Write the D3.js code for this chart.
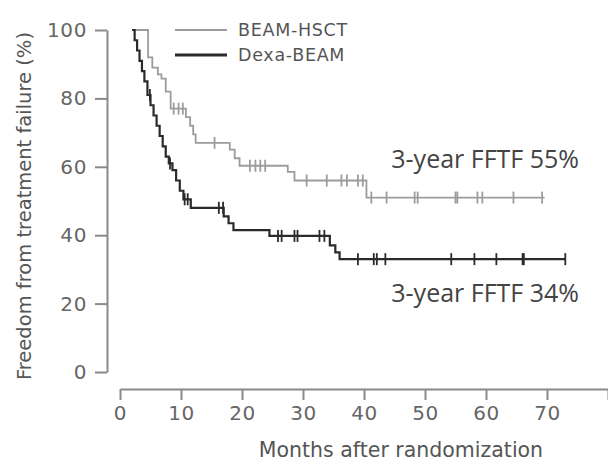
<!DOCTYPE html>
<html>
<head>
<meta charset="utf-8">
<script src="https://cdn.jsdelivr.net/npm/d3@7"></script>
<style>
  body { margin: 0; background: #fff; }
  svg { display: block; }
  .tick text { font-family: "DejaVu Sans", sans-serif; fill: #666; }
</style>
</head>
<body>
<div id="km"></div>
<script>
// BEAM-HSCT (grey) step times / survival (%)
var beamTimes = [2, 4.6, 5.3, 6.2, 6.8, 7.5, 8.3, 10.8, 11.5, 12.0, 12.4, 18, 18.8, 19.6, 27.5, 28.6, 40.4];
var beamSurv  = [100, 92, 89, 87, 85.8, 82, 77, 74.5, 72, 69.5, 67, 65, 62.5, 60.3, 58.5, 56, 51];
var beamCensor = [8.8, 9.6, 10.3, 15.5, 21.3, 22.2, 23, 23.8, 30.6, 33.9, 36.3, 37.2, 39, 39.8,
                  41.2, 43.7, 48.3, 48.8, 55, 55.3, 58.6, 59.4, 64.5, 69.2];
var beamEnd = 69.6;

// Dexa-BEAM (black)
var dexaTimes = [2, 2.4, 2.8, 3.2, 3.6, 4, 4.5, 5, 5.5, 6, 6.5, 7, 7.5, 8, 8.6, 9.2, 9.8, 10.4,
                 11.6, 17, 17.8, 18.6, 24.5, 34.4, 35.3, 36];
var dexaSurv  = [100, 97, 94, 91, 88, 85, 81, 78, 75, 72, 69, 66, 63, 61, 59, 56, 53, 50.5,
                 48, 45.5, 43.5, 41.5, 39.8, 37, 35, 33];
var dexaCensor = [4.9, 8.2, 10.6, 11.1, 16.2, 16.9, 25.9, 26.5, 28.6, 29.1, 32.7, 33.5,
                  39, 41.6, 42.1, 43.5, 54.3, 58.1, 61.7, 66, 66.2, 73];
var dexaEnd = 73;

var xTicks = [0, 10, 20, 30, 40, 50, 60, 70, 80];
var yTicks = [0, 20, 40, 60, 80, 100];
var seriesNames = ['BEAM-HSCT', 'Dexa-BEAM'];
var seriesColors = ['#9c9c9c', '#2a2a2a'];
var notes = ['3-year FFTF 55%', '3-year FFTF 34%'];

var width = 608, height = 463;

var svg = d3.select('#km').append('svg')
    .attr('width', width)
    .attr('height', height);

var x = d3.scaleLinear().domain([0, 80]).range([120, 608]);
var y = d3.scaleLinear().domain([0, 100]).range([372, 30]);

// axes
var yAxis = svg.append('g')
    .attr('transform', 'translate(107,0)')
    .call(d3.axisLeft(y).tickValues(yTicks).tickSize(12).tickSizeOuter(0).tickPadding(8));
var xAxis = svg.append('g')
    .attr('transform', 'translate(0,389)')
    .call(d3.axisBottom(x).tickValues(xTicks).tickSize(11).tickSizeOuter(0).tickPadding(6)
        .tickFormat(function(d) { return d === 80 ? '' : d; }));

[yAxis, xAxis].forEach(function(a) {
    a.selectAll('path, line').attr('stroke', '#8a8a8a').attr('stroke-width', 2);
    a.selectAll('text').attr('font-size', 20).attr('letter-spacing', '0.6px');
});

svg.append('text')
    .attr('transform', 'translate(31,206) rotate(-90)')
    .attr('text-anchor', 'middle')
    .attr('font-family', 'DejaVu Sans, sans-serif')
    .attr('font-size', 19.5)
    .attr('fill', '#555')
    .text('Freedom from treatment failure (%)');

svg.append('text')
    .attr('x', 401).attr('y', 457)
    .attr('text-anchor', 'middle')
    .attr('font-family', 'DejaVu Sans, sans-serif')
    .attr('font-size', 20.5)
    .attr('fill', '#555')
    .text('Months after randomization');

// step curves
function survAt(times, surv, t) {
    var i = d3.bisectRight(times, t) - 1;
    return surv[Math.max(i, 0)];
}

var series = [
    {times: beamTimes, surv: beamSurv, censor: beamCensor, end: beamEnd},
    {times: dexaTimes, surv: dexaSurv, censor: dexaCensor, end: dexaEnd}
];

var line = d3.line()
    .x(function(d) { return x(d[0]); })
    .y(function(d) { return y(d[1]); })
    .curve(d3.curveStepAfter);

series.forEach(function(s, k) {
    var pts = s.times.map(function(t, i) { return [t, s.surv[i]]; });
    pts.push([s.end, s.surv[s.surv.length - 1]]);

    svg.append('path')
        .attr('d', line(pts))
        .attr('fill', 'none')
        .attr('stroke', seriesColors[k])
        .attr('stroke-width', k === 0 ? 1.8 : 2.2);

    svg.selectAll('.c' + k)
        .data(s.censor)
        .enter().append('line')
        .attr('class', 'c' + k)
        .attr('x1', function(d) { return x(d); })
        .attr('x2', function(d) { return x(d); })
        .attr('y1', function(d) { return y(survAt(s.times, s.surv, d)) - 6; })
        .attr('y2', function(d) { return y(survAt(s.times, s.surv, d)) + 6; })
        .attr('stroke', seriesColors[k])
        .attr('stroke-width', 1.8);
});

// legend
var legend = svg.append('g');
seriesNames.forEach(function(name, i) {
    var ly = 30 + i * 25;
    legend.append('line')
        .attr('x1', 175).attr('x2', 227)
        .attr('y1', ly).attr('y2', ly)
        .attr('stroke', seriesColors[i])
        .attr('stroke-width', i === 0 ? 2 : 3);
    legend.append('text')
        .attr('x', 238).attr('y', ly)
        .attr('dy', '0.35em')
        .attr('font-family', 'DejaVu Sans, sans-serif')
        .attr('font-size', 17.5)
        .attr('letter-spacing', '0.7px')
        .attr('fill', '#555')
        .text(name);
});

// annotations
svg.append('text')
    .attr('x', 579).attr('y', 168)
    .attr('text-anchor', 'end')
    .attr('font-family', 'Open Sans, sans-serif')
    .attr('font-size', 25)
    .attr('fill', '#444')
    .text(notes[0]);
svg.append('text')
    .attr('x', 579).attr('y', 302)
    .attr('text-anchor', 'end')
    .attr('font-family', 'Open Sans, sans-serif')
    .attr('font-size', 25)
    .attr('fill', '#444')
    .text(notes[1]);
</script>
</body>
</html>
